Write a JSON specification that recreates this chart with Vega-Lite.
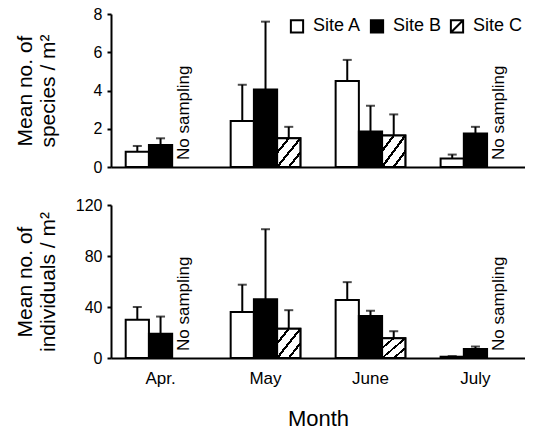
{
  "$schema": "https://vega.github.io/schema/vega-lite/v6.json",
  "padding": {"top": 6, "left": 14, "right": 0, "bottom": 2},
  "background": "white",
  "datasets": {
    "species": [
      {"month": "Apr.", "site": "Site A", "mean": 0.8, "upper": 1.1},
      {"month": "Apr.", "site": "Site B", "mean": 1.15, "upper": 1.5},
      {"month": "May", "site": "Site A", "mean": 2.4, "upper": 4.3},
      {"month": "May", "site": "Site B", "mean": 4.05, "upper": 7.6},
      {"month": "May", "site": "Site C", "mean": 1.5, "upper": 2.1},
      {"month": "June", "site": "Site A", "mean": 4.5, "upper": 5.6},
      {"month": "June", "site": "Site B", "mean": 1.85, "upper": 3.2},
      {"month": "June", "site": "Site C", "mean": 1.65, "upper": 2.75},
      {"month": "July", "site": "Site A", "mean": 0.45, "upper": 0.65},
      {"month": "July", "site": "Site B", "mean": 1.75, "upper": 2.1}
    ],
    "individuals": [
      {"month": "Apr.", "site": "Site A", "mean": 30, "upper": 40},
      {"month": "Apr.", "site": "Site B", "mean": 19, "upper": 32.5},
      {"month": "May", "site": "Site A", "mean": 36, "upper": 57.5},
      {"month": "May", "site": "Site B", "mean": 46, "upper": 101},
      {"month": "May", "site": "Site C", "mean": 23, "upper": 37.5},
      {"month": "June", "site": "Site A", "mean": 45.5, "upper": 59.5},
      {"month": "June", "site": "Site B", "mean": 33, "upper": 37},
      {"month": "June", "site": "Site C", "mean": 15.5, "upper": 21},
      {"month": "July", "site": "Site A", "mean": 1, "upper": 1.5},
      {"month": "July", "site": "Site B", "mean": 7, "upper": 9}
    ],
    "nosampling": [
      {"month": "Apr.", "site": "Site C", "mean": 0, "label": "No sampling"},
      {"month": "July", "site": "Site C", "mean": 0, "label": "No sampling"}
    ]
  },
  "resolve": {"scale": {"fill": "independent"}, "legend": {"fill": "independent"}},
  "spacing": 22,
  "vconcat": [
    {
      "width": 414,
      "height": 153,
      "encoding": {
        "x": {
          "field": "month",
          "type": "nominal",
          "sort": ["Apr.", "May", "June", "July"],
          "scale": {"domain": ["Apr.", "May", "June", "July"], "paddingInner": 0.336, "paddingOuter": 0.14},
          "axis": {"labels": false, "ticks": false, "title": null}
        },
        "xOffset": {
          "field": "site",
          "type": "nominal",
          "scale": {"domain": ["Site A", "Site B", "Site C"], "paddingInner": 0, "paddingOuter": 0}
        },
        "y": {
          "field": "mean",
          "type": "quantitative",
          "scale": {"domain": [0, 8], "nice": false},
          "axis": {"values": [0, 2, 4, 6, 8], "tickCount": 5, "labelOverlap": false, "title": ["Mean no. of", "species / m²"], "minExtent": 45, "titlePadding": 8}
        }
      },
      "layer": [
        {
          "data": {"name": "species"},
          "mark": {"type": "bar", "stroke": "black", "strokeWidth": 2},
          "encoding": {
            "fill": {
              "field": "site",
              "type": "nominal",
              "scale": {"domain": ["Site A", "Site B", "Site C"], "range": ["white", "black", "white"]},
              "legend": {
                "orient": "none",
                "legendX": 177,
                "legendY": 3,
                "direction": "horizontal",
                "title": null,
                "symbolType": "square",
                "symbolSize": 150,
                "symbolStrokeWidth": 2,
                "symbolStrokeColor": "black",
                "labelFontSize": 18,
                "labelOffset": 7,
                "columnPadding": 4,
                "encode": {
                  "symbols": {
                    "update": {
                      "stroke": {"value": "black"},
                      "strokeWidth": {"value": 2},
                      "shape": {"signal": "datum.value === 'Site C' ? 'M-1,-1H1V1H-1Z M-1,1L1,-1' : 'square'"}
                    }
                  }
                }
              }
            }
          }
        },
        {
          "data": {"name": "species"},
          "transform": [{"filter": "datum.site === 'Site C'"}],
          "mark": {
            "type": "bar",
            "stroke": "black",
            "strokeWidth": 2,
            "fill": {
              "gradient": "linear",
              "x1": 0, "y1": 0, "x2": 1, "y2": 1,
              "stops": [
                {"offset": 0, "color": "white"},
                {"offset": 0.22, "color": "white"},
                {"offset": 0.22, "color": "black"},
                {"offset": 0.28, "color": "black"},
                {"offset": 0.28, "color": "white"},
                {"offset": 0.47, "color": "white"},
                {"offset": 0.47, "color": "black"},
                {"offset": 0.53, "color": "black"},
                {"offset": 0.53, "color": "white"},
                {"offset": 0.72, "color": "white"},
                {"offset": 0.72, "color": "black"},
                {"offset": 0.78, "color": "black"},
                {"offset": 0.78, "color": "white"},
                {"offset": 1, "color": "white"}
              ]
            }
          }
        },
        {
          "data": {"name": "species"},
          "mark": {"type": "rule", "color": "black", "strokeWidth": 2},
          "encoding": {
            "y2": {"field": "upper"}
          }
        },
        {
          "data": {"name": "species"},
          "mark": {"type": "tick", "color": "black", "thickness": 2, "size": 9},
          "encoding": {"y": {"field": "upper", "type": "quantitative"}}
        },
        {
          "data": {"name": "nosampling"},
          "mark": {"type": "text", "angle": 270, "align": "left", "baseline": "middle", "yOffset": -7, "fontSize": 17, "color": "black"},
          "encoding": {
            "text": {"field": "label"}
          }
        }
      ]
    },
    {
      "width": 414,
      "height": 153,
      "encoding": {
        "x": {
          "field": "month",
          "type": "nominal",
          "sort": ["Apr.", "May", "June", "July"],
          "scale": {"domain": ["Apr.", "May", "June", "July"], "paddingInner": 0.336, "paddingOuter": 0.14},
          "axis": {"ticks": false, "labelAngle": 0, "labelFontSize": 17, "labelPadding": 12, "title": "Month", "titleFontSize": 22, "titlePadding": 22}
        },
        "xOffset": {
          "field": "site",
          "type": "nominal",
          "scale": {"domain": ["Site A", "Site B", "Site C"], "paddingInner": 0, "paddingOuter": 0}
        },
        "y": {
          "field": "mean",
          "type": "quantitative",
          "scale": {"domain": [0, 120], "nice": false},
          "axis": {"values": [0, 40, 80, 120], "labelOverlap": false, "title": ["Mean no. of", "individuals / m²"], "minExtent": 45, "titlePadding": 8}
        }
      },
      "layer": [
        {
          "data": {"name": "individuals"},
          "mark": {"type": "bar", "stroke": "black", "strokeWidth": 2},
          "encoding": {
            "fill": {
              "condition": {"test": "datum.site === 'Site B'", "value": "black"},
              "value": "white"
            }
          }
        },
        {
          "data": {"name": "individuals"},
          "transform": [{"filter": "datum.site === 'Site C'"}],
          "mark": {
            "type": "bar",
            "stroke": "black",
            "strokeWidth": 2,
            "fill": {
              "gradient": "linear",
              "x1": 0, "y1": 0, "x2": 1, "y2": 1,
              "stops": [
                {"offset": 0, "color": "white"},
                {"offset": 0.22, "color": "white"},
                {"offset": 0.22, "color": "black"},
                {"offset": 0.28, "color": "black"},
                {"offset": 0.28, "color": "white"},
                {"offset": 0.47, "color": "white"},
                {"offset": 0.47, "color": "black"},
                {"offset": 0.53, "color": "black"},
                {"offset": 0.53, "color": "white"},
                {"offset": 0.72, "color": "white"},
                {"offset": 0.72, "color": "black"},
                {"offset": 0.78, "color": "black"},
                {"offset": 0.78, "color": "white"},
                {"offset": 1, "color": "white"}
              ]
            }
          }
        },
        {
          "data": {"name": "individuals"},
          "mark": {"type": "rule", "color": "black", "strokeWidth": 2},
          "encoding": {
            "y2": {"field": "upper"}
          }
        },
        {
          "data": {"name": "individuals"},
          "mark": {"type": "tick", "color": "black", "thickness": 2, "size": 9},
          "encoding": {"y": {"field": "upper", "type": "quantitative"}}
        },
        {
          "data": {"name": "nosampling"},
          "mark": {"type": "text", "angle": 270, "align": "left", "baseline": "middle", "yOffset": -7, "fontSize": 17, "color": "black"},
          "encoding": {
            "text": {"field": "label"}
          }
        }
      ]
    }
  ],
  "config": {
    "font": "Liberation Sans",
    "view": {"stroke": null},
    "axis": {
      "grid": false,
      "domainColor": "black",
      "domainWidth": 2,
      "tickColor": "black",
      "tickWidth": 2,
      "tickSize": 4,
      "labelColor": "black",
      "labelFontSize": 16,
      "labelPadding": 5,
      "titleColor": "black",
      "titleFontSize": 21,
      "titleFontWeight": "normal"
    },
    "legend": {"labelColor": "black", "labelFont": "Liberation Sans"},
    "text": {"font": "Liberation Sans"}
  }
}
